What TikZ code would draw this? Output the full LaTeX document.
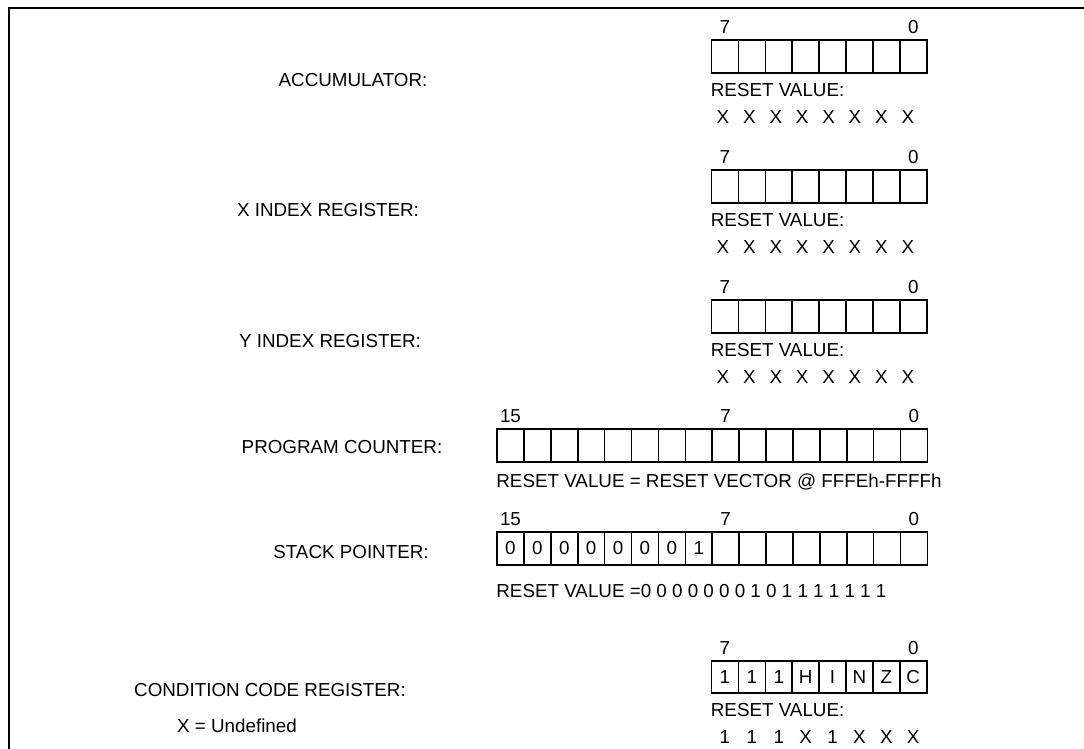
\documentclass[tikz,border=0pt]{standalone}
\usepackage{fontspec}
\setmainfont{Liberation Sans}
\usetikzlibrary{positioning}
\newcommand{\regfont}{\fontsize{18.8}{22}\selectfont}
\tikzset{
  cell/.style={rectangle, draw=black, line width=1.6pt, minimum width=26.9pt,
    minimum height=33pt, inner sep=0pt, font=\regfont},
  lbl/.style={font=\regfont, inner sep=0pt},
  frame/.style={draw=black, line width=1.2pt},
}
\begin{document}
\begin{tikzpicture}[x=1pt, y=-1pt]
\useasboundingbox (0,0) rectangle (1084,749);
% Outer frame (left and top edge only)
\draw[frame] (9,749) |- (1084,8);
% Register names
\node[lbl] (accname) at (353,80)  {ACCUMULATOR:};
\node[lbl] (xname)   at (328,210) {X INDEX REGISTER:};
\node[lbl] (yname)   at (330,341) {Y INDEX REGISTER:};
\node[lbl] (pcname)  at (342,447) {PROGRAM COUNTER:};
\node[lbl] (spname)  at (351,552) {STACK POINTER:};
\node[lbl] (ccrname) at (270,690) {CONDITION CODE REGISTER:};
\node[lbl] (undef)   at (237,726) {X = Undefined};
% Accumulator
\foreach \i in {0,...,7} {
  \node[cell] (acc\i) at ({724.95+26.9*\i},56.5) {};
  \node[lbl]  (accv\i) at ({723+26.4*\i},117) {X};
}
\node[lbl, above=5.5pt of acc0] (acchi) {7};
\node[lbl, above=5.5pt of acc7] (acclo) {0};
\node[lbl, below right=9pt and 0pt of acc0.south west] (accrst) {RESET VALUE:};
% X index register
\foreach \i in {0,...,7} {
  \node[cell] (xr\i) at ({724.95+26.9*\i},186.5) {};
  \node[lbl]  (xrv\i) at ({723+26.4*\i},247) {X};
}
\node[lbl, above=5.5pt of xr0] (xrhi) {7};
\node[lbl, above=5.5pt of xr7] (xrlo) {0};
\node[lbl, below right=9pt and 0pt of xr0.south west] (xrrst) {RESET VALUE:};
% Y index register
\foreach \i in {0,...,7} {
  \node[cell] (yr\i) at ({724.95+26.9*\i},316.5) {};
  \node[lbl]  (yrv\i) at ({723+26.4*\i},377) {X};
}
\node[lbl, above=5.5pt of yr0] (yrhi) {7};
\node[lbl, above=5.5pt of yr7] (yrlo) {0};
\node[lbl, below right=9pt and 0pt of yr0.south west] (yrrst) {RESET VALUE:};
% Program counter
\foreach \i in {0,...,15}
  \node[cell] (pc\i) at ({510.45+26.9*\i},445.5) {};
\node[lbl, above=5.5pt of pc0] (pchi) {15};
\node[lbl, above=5.5pt of pc8] (pcmid) {7};
\node[lbl, above=5.5pt of pc15] (pclo) {0};
\node[lbl, below right=10.5pt and 0pt of pc0.south west] (pcrst)
  {RESET VALUE = RESET VECTOR @ FFFEh-FFFFh};
% Stack pointer
\foreach \v [count=\n from 0] in {0,0,0,0,0,0,0,1,{},{},{},{},{},{},{},{}}
  \node[cell] (sp\n) at ({510.45+26.9*\n},548.5) {\v};
\node[lbl, above=5.5pt of sp0] (sphi) {15};
\node[lbl, above=5.5pt of sp8] (spmid) {7};
\node[lbl, above=5.5pt of sp15] (splo) {0};
\node[lbl, below right=18.5pt and 0pt of sp0.south west] (sprst)
  {RESET VALUE =0 0 0 0 0 0 0 1 0 1 1 1 1 1 1 1};
% Condition code register
\foreach \v [count=\n from 0] in {1,1,1,H,I,N,Z,C}
  \node[cell, minimum height=32pt] (ccr\n) at ({724.95+26.9*\n},677) {\v};
\foreach \v [count=\n from 0] in {1,1,1,X,1,X,X,X}
  \node[lbl] (ccrv\n) at ({724.95+26.9*\n},737) {\v};
\node[lbl, above=5.5pt of ccr0] (ccrhi) {7};
\node[lbl, above=5.5pt of ccr7] (ccrlo) {0};
\node[lbl, below right=9pt and 0pt of ccr0.south west] (ccrrst) {RESET VALUE:};
\end{tikzpicture}
\end{document}
